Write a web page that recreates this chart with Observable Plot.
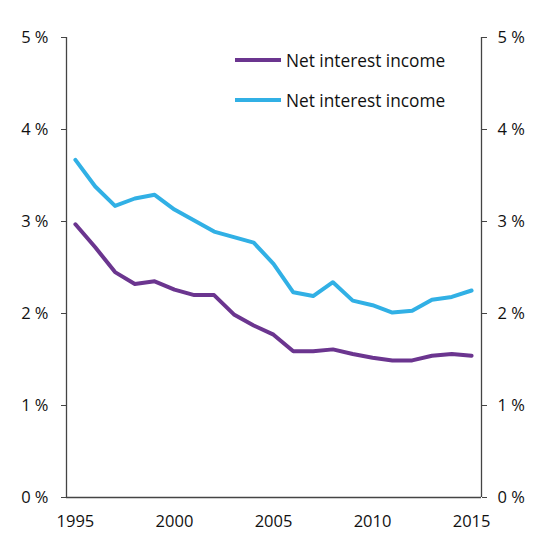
<!DOCTYPE html>
<html>
<head>
<meta charset="utf-8">
<script src="https://cdn.jsdelivr.net/npm/d3@7"></script>
<script src="https://cdn.jsdelivr.net/npm/@observablehq/plot@0.6"></script>
<style>
  html, body { margin: 0; padding: 0; background: #fff; }
  #wrap { position: relative; width: 560px; height: 560px; font-family: "Open Sans", sans-serif; }
  .legend { position: absolute; left: 235px; font-size: 17.3px; color: #111; display: flex; align-items: center; }
  .legend .sw { width: 46px; height: 4px; margin-right: 5px; }
</style>
</head>
<body>
<div id="wrap"></div>
<script>
const years = [1995,1996,1997,1998,1999,2000,2001,2002,2003,2004,2005,2006,2007,2008,2009,2010,2011,2012,2013,2014,2015];
const purpleValues = [2.97,2.72,2.45,2.32,2.35,2.26,2.20,2.20,1.99,1.87,1.77,1.59,1.59,1.61,1.56,1.52,1.49,1.49,1.54,1.56,1.54];
const blueValues = [3.67,3.38,3.17,3.25,3.29,3.13,3.01,2.89,2.83,2.77,2.54,2.23,2.19,2.34,2.14,2.09,2.01,2.03,2.15,2.18,2.25];
const seriesNames = ["Net interest income", "Net interest income"];
const seriesColors = ["#6b358f", "#31b0e5"];
const xTicks = [1995, 2000, 2005, 2010, 2015];
const yTicks = [0, 1, 2, 3, 4, 5];
const xDomain = [1994.55, 2015.5];
const yDomain = [0, 5];

const purple = years.map((year, i) => ({year, value: purpleValues[i]}));
const blue = years.map((year, i) => ({year, value: blueValues[i]}));
const fmt = d => `${d} %`;
const axisColor = "#444";

const chart = Plot.plot({
  width: 560,
  height: 560,
  marginLeft: 66,
  marginRight: 79,
  marginTop: 37,
  marginBottom: 63,
  style: { fontFamily: "Open Sans, sans-serif", fontSize: "16.5px", color: "#111", background: "#fff" },
  x: { domain: xDomain, label: null },
  y: { domain: yDomain, label: null },
  marks: [
    Plot.axisX({ ticks: xTicks, tickFormat: d => String(d), tickSize: 0, tickPadding: 18, fontSize: 16.5 }),
    Plot.axisY({ anchor: "left", ticks: yTicks, tickFormat: fmt, tickSize: 5, tickPadding: 13, stroke: axisColor, fontSize: 16.5 }),
    Plot.axisY({ anchor: "right", ticks: yTicks, tickFormat: fmt, tickSize: 5, tickPadding: 11, stroke: axisColor, fontSize: 16.5 }),
    Plot.ruleX([xDomain[0], xDomain[1]], { stroke: axisColor, strokeWidth: 1.3 }),
    Plot.ruleY([0], { stroke: axisColor, strokeWidth: 1.3 }),
    Plot.line(blue, { x: "year", y: "value", stroke: seriesColors[1], strokeWidth: 4 }),
    Plot.line(purple, { x: "year", y: "value", stroke: seriesColors[0], strokeWidth: 4 })
  ]
});

const wrap = document.getElementById("wrap");
wrap.appendChild(chart);
const legendTops = [60, 100];
seriesNames.forEach((name, i) => {
  const item = document.createElement("div");
  item.className = "legend";
  item.style.top = (legendTops[i] - 12) + "px";
  item.style.height = "24px";
  const sw = document.createElement("span");
  sw.className = "sw";
  sw.style.background = seriesColors[i];
  const label = document.createElement("span");
  label.textContent = name;
  item.appendChild(sw);
  item.appendChild(label);
  wrap.appendChild(item);
});
</script>
</body>
</html>
